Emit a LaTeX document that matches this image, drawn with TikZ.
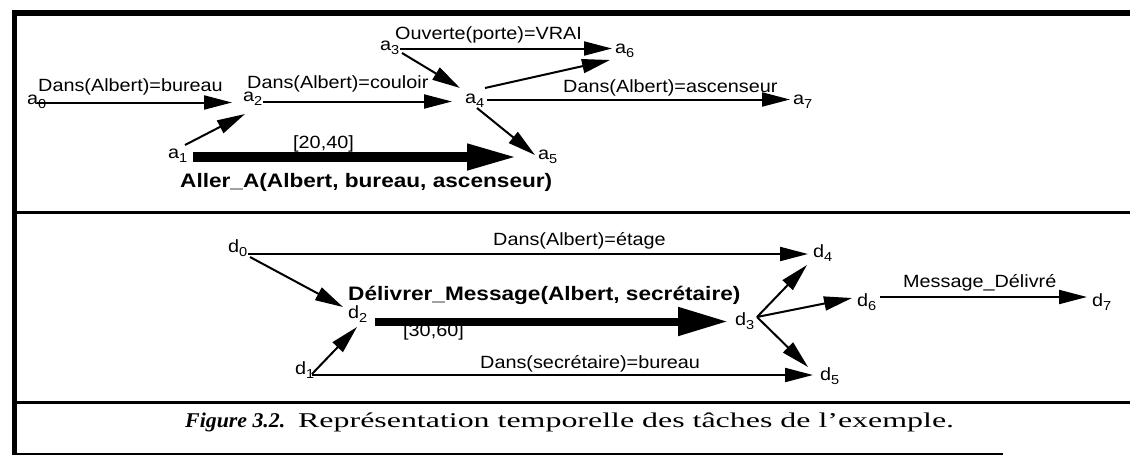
\documentclass[tikz,border=0pt]{standalone}
\usepackage{fontspec}
\setmainfont{Liberation Serif}
\setsansfont{Liberation Sans}
\usepackage{graphicx}
\usetikzlibrary{arrows.meta,calc}

\newcommand\lbl[1]{\scalebox{1.12}[1]{\sffamily\fontsize{17.7}{20}\selectfont #1}}
\newcommand\blbl[1]{\scalebox{1.16}[1]{\sffamily\bfseries\fontsize{19.5}{22}\selectfont #1}}
\newcommand\vtx[2]{\scalebox{1.12}[1]{\sffamily\fontsize{17.7}{20}\selectfont #1\raisebox{-4pt}{\fontsize{13}{14}\selectfont #2}}}

\tikzset{
  vnode/.style={inner sep=0pt, anchor=base west},
  lab/.style={inner sep=0pt, anchor=base west},
  thinarr/.style={line width=2pt, -{Triangle[length=28pt,width=14pt]}},
  thickarr/.style={line width=10pt, -{Triangle[length=51pt,width=24pt]}},
  thickarrb/.style={line width=8pt, -{Triangle[length=50pt,width=27pt]}},
  rulethick/.style={line width=6pt},
  ruleleft/.style={line width=5pt},
  rulemid/.style={line width=3pt},
  rulethin/.style={line width=2pt}
}

\begin{document}
\begin{tikzpicture}[x=1pt,y=-1pt]
\useasboundingbox (0,0) rectangle (1130,456);

% frame
\draw[rulethick] (12,12.5) -- (1130,12.5);
\draw[ruleleft] (14.5,10) -- (14.5,455);
\draw[rulemid] (14,212) -- (1130,212);
\draw[rulemid] (14,402) -- (1130,402);
\draw[rulethin] (12,453.5) -- (1003,453.5);

% top panel vertices
\node[vnode] (a0) at (27,104) {\vtx{a}{0}};
\node[vnode] (a1) at (168,158) {\vtx{a}{1}};
\node[vnode] (a2) at (243,101) {\vtx{a}{2}};
\node[vnode] (a3) at (380,50) {\vtx{a}{3}};
\node[vnode] (a4) at (465,103) {\vtx{a}{4}};
\node[vnode] (a5) at (538,159) {\vtx{a}{5}};
\node[vnode] (a6) at (615,53) {\vtx{a}{6}};
\node[vnode] (a7) at (793,104) {\vtx{a}{7}};

% top panel labels
\node[lab] (l1) at (38,91.5) {\lbl{Dans(Albert)=bureau}};
\node[lab] (l2) at (247,88.5) {\lbl{Dans(Albert)=couloir}};
\node[lab] (l3) at (395,39) {\lbl{Ouverte(porte)=VRAI}};
\node[lab] (l4) at (563,92) {\lbl{Dans(Albert)=ascenseur}};
\node[lab] (l5) at (293,148) {\lbl{[20,40]}};
\node[lab] (l6) at (180,187) {\blbl{Aller\_A(Albert, bureau, ascenseur)}};

% top panel connectors
\draw[thinarr] ($(a0.base west)+(10,-1.5)$) -- ($(a2.base west)+(-11,1.5)$);
\draw[thinarr] ($(a1.base west)+(17,-13)$) -- ($(a2.base west)+(2,13)$);
\draw[thinarr] ($(a2.base west)+(20,0.5)$) -- ($(a4.base west)+(-13,-1.5)$);
\draw[thinarr] ($(a3.base west)+(20,-1.5)$) -- ($(a6.base west)+(-3,-4.5)$);
\draw[thinarr] ($(a3.base west)+(22,3)$) -- ($(a4.base west)+(-5,-15)$);
\draw[thinarr] ($(a4.base west)+(20,-15)$) -- ($(a6.base west)+(-5,7)$);
\draw[thinarr] ($(a4.base west)+(22,-3.5)$) -- ($(a7.base west)+(-3,-4.5)$);
\draw[thinarr] ($(a4.base west)+(12,5)$) -- ($(a5.base west)+(-3,-4)$);
\draw[thickarr] ($(a1.base west)+(25,-1)$) -- ($(a5.base west)+(-20,-2)$);

% bottom panel vertices
\node[vnode] (d0) at (228,252) {\vtx{d}{0}};
\node[vnode] (d1) at (295,374) {\vtx{d}{1}};
\node[vnode] (d2) at (348,318) {\vtx{d}{2}};
\node[vnode] (d3) at (735,325) {\vtx{d}{3}};
\node[vnode] (d4) at (813,257) {\vtx{d}{4}};
\node[vnode] (d5) at (820,380) {\vtx{d}{5}};
\node[vnode] (d6) at (857,306) {\vtx{d}{6}};
\node[vnode] (d7) at (1092,306) {\vtx{d}{7}};

% bottom panel labels
\node[lab] (l7) at (493,245) {\lbl{Dans(Albert)=étage}};
\node[lab] (l8) at (348,300) {\blbl{Délivrer\_Message(Albert, secrétaire)}};
\node[lab] (l9) at (403,336) {\lbl{[30,60]}};
\node[lab] (l10) at (480,368) {\lbl{Dans(secrétaire)=bureau}};
\node[lab] (l11) at (903,287) {\lbl{Message\_Délivré}};

% bottom panel connectors
\draw[thinarr] ($(d0.base west)+(20,2)$) -- ($(d4.base west)+(-5,-3)$);
\draw[thinarr] ($(d0.base west)+(22,5)$) -- ($(d2.base west)+(-5,-11)$);
\draw[thinarr] ($(d1.base west)+(17,0)$) -- ($(d2.base west)+(9,9)$);
\draw[thinarr] ($(d1.base west)+(17,1)$) -- ($(d5.base west)+(-7,-5)$);
\draw[thickarrb] ($(d2.base west)+(27,3.5)$) -- ($(d3.base west)+(-7,-3.5)$);
\draw[thinarr] ($(d3.base west)+(22,-8)$) -- ($(d4.base west)+(-6,8)$);
\draw[thinarr] ($(d3.base west)+(22,-8)$) -- ($(d6.base west)+(-5,-8)$);
\draw[thinarr] ($(d3.base west)+(22,-8)$) -- ($(d5.base west)+(-12,-13)$);
\draw[thinarr] ($(d6.base west)+(23,-9)$) -- ($(d7.base west)+(-5,-9)$);

% caption
\node[lab] (capb) at (185,427) {\scalebox{1.04}[1]{\fontsize{21}{24}\selectfont\bfseries\itshape Figure 3.2.}};
\node[lab] (capt) at (298,427) {\scalebox{1.52}[1]{\fontsize{21}{24}\selectfont Représentation temporelle des tâches de l’exemple.}};
\end{tikzpicture}
\end{document}
